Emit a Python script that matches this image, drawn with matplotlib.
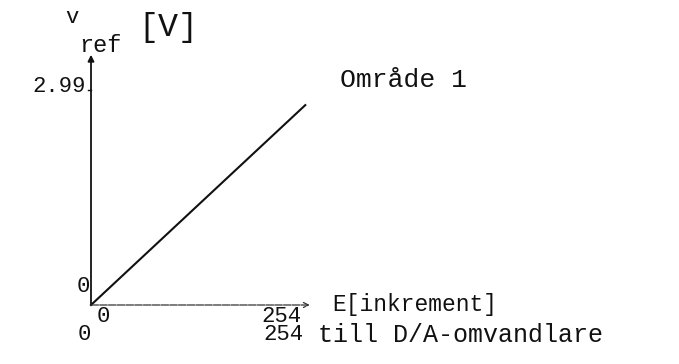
import matplotlib
matplotlib.use("Agg")
import matplotlib.pyplot as plt

# reference voltage against increment count, range 1
E = [0, 288]
v_ref = [0, 2.78]
x_ticks = [0, 254]
y_ticks = [0, 2.99]
x_max, y_max = 294, 3.48

plt.rcParams['font.family'] = ['Liberation Mono', 'DejaVu Sans Mono']
ink = '#111111'

fig = plt.figure(figsize=(6.79, 3.64), dpi=100)
# axes box placed so that 0..254 and 0..2.99 fall where the sketch has them
ax = fig.add_axes([91 / 679, 59 / 364, 189 / 679, 215 / 364])
ax.set_xlim(0, x_ticks[1])
ax.set_ylim(0, y_ticks[1])
ax.axis('off')

# axes with arrow heads
ax.annotate('', xy=(0, y_max), xytext=(0, 0),
            arrowprops=dict(arrowstyle='-|>', color=ink, lw=1.3,
                            mutation_scale=9, shrinkA=0, shrinkB=0),
            annotation_clip=False)
ax.annotate('', xy=(x_max, 0), xytext=(0, 0),
            arrowprops=dict(arrowstyle='->', color='#333333', lw=0.9,
                            mutation_scale=9, shrinkA=0, shrinkB=0,
                            linestyle=(0, (6, 1))),
            annotation_clip=False)
ax.plot(E, v_ref, color=ink, lw=1.5, clip_on=False)
ax.plot([-4, 0], [y_ticks[1], y_ticks[1]], color=ink, lw=1, clip_on=False)

def label(s, xy, off, ha='center', size=16):
    ax.annotate(s, xy=xy, xytext=off, textcoords='offset pixels',
                ha=ha, va='center', fontsize=size, color=ink,
                annotation_clip=False)

label('2.99', (0, y_ticks[1]), (-5, 4), ha='right')
label('0', (0, 0), (-1, 18), ha='right')
label('0', (x_ticks[0], 0), (12, -12))
label(str(x_ticks[1]), (x_ticks[1], 0), (1, -11))
label('E[inkrement]', (x_max, 0), (22, 0), ha='left', size=16.5)
label('0', (x_ticks[0], 0), (-7, -30))
label(str(x_ticks[1]), (x_ticks[1], 0), (3, -30))
label('till D/A-omvandlare', (x_ticks[1], 0), (38, -30), ha='left', size=18)
label('Område 1', (E[1], v_ref[1]), (35, 25), ha='left', size=19)

# axis title: v with subscript "ref" and unit
label('v', (0, y_max), (-19, 37))
label('ref', (0, y_max), (-12, 9), ha='left', size=17)
label('[V]', (0, y_max), (47, 27), ha='left', size=24)

fig.savefig('out.png', dpi=100, facecolor='white')
